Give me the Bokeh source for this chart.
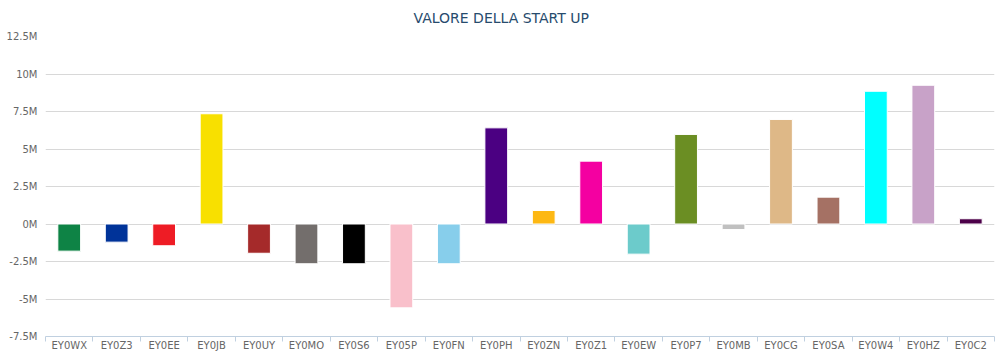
from bokeh.plotting import figure
from bokeh.models import ColumnDataSource, Range1d, FixedTicker, Title
from bokeh.embed import file_html
from bokeh.resources import INLINE

title_text = "VALORE DELLA START UP"
categories = ["EY0WX", "EY0Z3", "EY0EE", "EY0JB", "EY0UY", "EY0MO", "EY0S6", "EY05P", "EY0FN", "EY0PH",
              "EY0ZN", "EY0Z1", "EY0EW", "EY0P7", "EY0MB", "EY0CG", "EY0SA", "EY0W4", "EY0HZ", "EY0C2"]
values_m = [-1.81, -1.21, -1.45, 7.35, -1.95, -2.65, -2.65, -5.59, -2.65, 6.41,
            0.90, 4.19, -2.01, 5.97, -0.37, 6.97, 1.79, 8.85, 9.25, 0.35]
colors = ["#0e8345", "#003399", "#ee1c25", "#f8e000", "#a52a2a", "#736e6c", "#000000", "#f9c0cb", "#87ceeb", "#4b0082",
          "#fdb813", "#f400a1", "#6ccbcb", "#6b8e23", "#c0c0c0", "#deb887", "#a57164", "#00ffff", "#c8a2c8", "#4c0049"]
y_ticks = [-7.5, -5, -2.5, 0, 2.5, 5, 7.5, 10, 12.5]
y_tick_labels = ["-7.5M", "-5M", "-2.5M", "0M", "2.5M", "5M", "7.5M", "10M", "12.5M"]

n = len(categories)
centers = [i + 0.5 for i in range(n)]  # category slot centres on a linear index scale
source = ColumnDataSource(dict(x=centers, cat=categories, val=values_m, color=colors))

p = figure(frame_width=949, frame_height=300, x_range=Range1d(0, n), y_range=Range1d(-7.5, 12.5),
           output_backend="svg", toolbar_location=None,
           min_border_left=45, min_border_right=8, min_border_top=36, min_border_bottom=20,
           title=title_text)
p.outline_line_color = None
p.background_fill_color = "white"
p.border_fill_color = "white"

p.title.align = "left"
p.title.offset = 368
p.title.text_color = "#274b6d"
p.title.text_font = "DejaVu Sans"
p.title.text_font_size = "14px"
p.title.text_font_style = "normal"

# small empty spacer between the title and the plot area
p.add_layout(Title(text=" ", text_font_size="2px", standoff=2), "above")

p.vbar(x="x", top="val", bottom=0, width=0.48, source=source,
       fill_color="color", line_color="white", line_width=1)

# y axis
p.yaxis.ticker = FixedTicker(ticks=y_ticks)
p.yaxis.major_label_overrides = {t: l for t, l in zip(y_ticks, y_tick_labels)}
p.yaxis.axis_line_color = None
p.yaxis.major_tick_line_color = None
p.yaxis.minor_tick_line_color = None
p.yaxis.major_tick_out = 0
p.yaxis.minor_tick_out = 0
p.yaxis.major_label_standoff = 8
p.yaxis.major_label_text_color = "#666666"
p.yaxis.major_label_text_font = "DejaVu Sans"
p.yaxis.major_label_text_font_size = "10px"

p.ygrid.ticker = FixedTicker(ticks=y_ticks)
p.ygrid.grid_line_color = "#d8d8d8"
p.xgrid.grid_line_color = None

# x axis: labels at slot centres, tick marks between categories
xaxis = p.xaxis[0]
xaxis.ticker = FixedTicker(ticks=centers, minor_ticks=list(range(n + 1)))
xaxis.major_label_overrides = {c: cat for c, cat in zip(centers, categories)}
xaxis.axis_line_color = "#c0d0e0"
xaxis.major_tick_line_color = None
xaxis.major_tick_out = 0
xaxis.major_tick_in = 0
xaxis.minor_tick_line_color = "#c0d0e0"
xaxis.minor_tick_out = 5
xaxis.minor_tick_in = 0
xaxis.major_label_standoff = -2
xaxis.major_label_text_color = "#666666"
xaxis.major_label_text_font = "DejaVu Sans"
xaxis.major_label_text_font_size = "10px"

open("out.html", "w").write(file_html(p, INLINE))
